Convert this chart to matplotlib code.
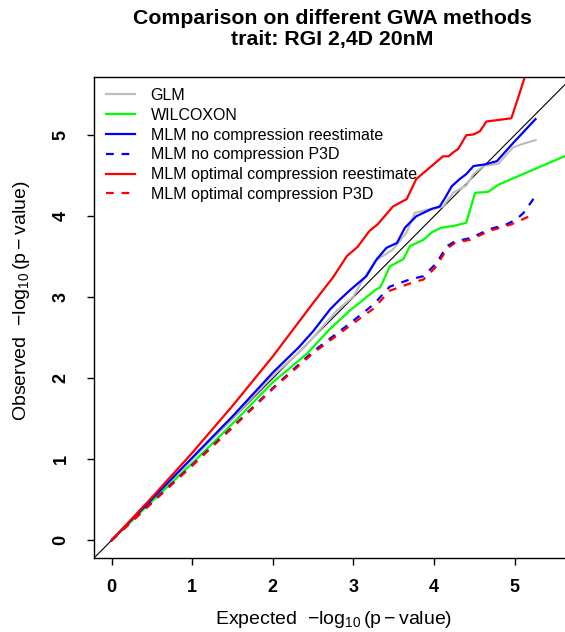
import matplotlib
matplotlib.use('Agg')
import matplotlib.pyplot as plt

plt.rcParams['font.family'] = ['Liberation Sans', 'DejaVu Sans']
plt.rcParams['mathtext.fontset'] = 'custom'
plt.rcParams['mathtext.rm'] = 'Liberation Sans'
plt.rcParams['mathtext.it'] = 'Liberation Sans'
plt.rcParams['mathtext.default'] = 'regular'

# expected vs observed -log10(p) for each method
glm_x = [0, 0.5, 1.0, 1.5, 2.0, 2.38, 2.79, 3.0, 3.08, 3.27, 3.49, 3.66, 3.76, 3.91, 4.11, 4.24, 4.40, 4.49, 4.61, 4.80, 4.98, 5.09, 5.26]
glm_y = [0, 0.50, 1.00, 1.51, 2.03, 2.37, 2.83, 3.01, 3.15, 3.45, 3.59, 3.80, 4.04, 4.08, 4.12, 4.29, 4.38, 4.52, 4.62, 4.65, 4.85, 4.89, 4.94]

wil_x = [0, 0.5, 1.0, 1.5, 2.0, 2.42, 2.7, 2.96, 3.10, 3.27, 3.33, 3.38, 3.45, 3.62, 3.70, 3.87, 3.97, 4.09, 4.24, 4.40, 4.51, 4.67, 4.80, 5.85]
wil_y = [0, 0.48, 0.95, 1.44, 1.95, 2.30, 2.60, 2.84, 2.95, 3.09, 3.12, 3.22, 3.38, 3.47, 3.63, 3.71, 3.80, 3.86, 3.88, 3.92, 4.29, 4.30, 4.39, 4.84]

mlm_x = [0, 0.5, 1.0, 1.5, 2.0, 2.32, 2.5, 2.71, 2.83, 2.96, 3.16, 3.29, 3.41, 3.54, 3.64, 3.78, 3.97, 4.07, 4.14, 4.22, 4.32, 4.40, 4.49, 4.63, 4.78, 4.96, 5.26]
mlm_y = [0, 0.51, 1.02, 1.53, 2.07, 2.38, 2.58, 2.85, 2.97, 3.09, 3.26, 3.47, 3.61, 3.67, 3.86, 4.00, 4.09, 4.12, 4.23, 4.37, 4.46, 4.52, 4.62, 4.64, 4.68, 4.88, 5.20]

mlm_p3d_x = [0, 0.5, 1.0, 1.5, 2.0, 2.5, 2.96, 3.25, 3.45, 3.70, 3.87, 4.03, 4.16, 4.26, 4.45, 4.69, 4.90, 5.02, 5.11, 5.26]
mlm_p3d_y = [0, 0.47, 0.93, 1.40, 1.88, 2.33, 2.68, 2.91, 3.13, 3.22, 3.26, 3.42, 3.63, 3.69, 3.73, 3.84, 3.90, 3.96, 4.04, 4.25]

opt_x = [0, 0.5, 1.0, 1.5, 2.0, 2.25, 2.5, 2.75, 2.92, 3.05, 3.2, 3.3, 3.49, 3.6, 3.66, 3.78, 3.97, 4.11, 4.18, 4.24, 4.30, 4.40, 4.49, 4.57, 4.65, 4.96, 5.04, 5.13, 5.27]
opt_y = [0, 0.53, 1.08, 1.66, 2.27, 2.60, 2.93, 3.25, 3.51, 3.62, 3.82, 3.90, 4.12, 4.18, 4.21, 4.46, 4.62, 4.74, 4.74, 4.79, 4.83, 5.00, 5.01, 5.05, 5.17, 5.21, 5.45, 5.73, 6.2]

opt_p3d_x = [0, 0.5, 1.0, 1.5, 2.0, 2.5, 2.96, 3.25, 3.45, 3.70, 3.87, 4.03, 4.16, 4.26, 4.45, 4.69, 4.96, 5.23]
opt_p3d_y = [0, 0.46, 0.92, 1.39, 1.87, 2.31, 2.65, 2.86, 3.08, 3.17, 3.22, 3.38, 3.60, 3.67, 3.71, 3.82, 3.90, 4.02]

fig = plt.figure(figsize=(5.65, 6.32), dpi=100)
ax = fig.add_axes([0.1671, 0.1171, 0.8577, 0.7611])

ax.axline((0, 0), slope=1, color='black', lw=0.8, zorder=1)

lw = 1.6
dash = (3.5, 3.5)
ax.plot(glm_x, glm_y, color='#BEBEBE', lw=lw, label='GLM')
ax.plot(wil_x, wil_y, color='#00FF00', lw=lw, label='WILCOXON')
ax.plot(mlm_x, mlm_y, color='#0000FF', lw=lw, label='MLM no compression reestimate')
ax.plot(mlm_p3d_x, mlm_p3d_y, color='#0000FF', lw=lw, dashes=dash, label='MLM no compression P3D')
ax.plot(opt_x, opt_y, color='#FF0000', lw=lw, label='MLM optimal compression reestimate')
ax.plot(opt_p3d_x, opt_p3d_y, color='#FF0000', lw=lw, dashes=dash, label='MLM optimal compression P3D')

ax.set_xlim(-0.215, 5.8)
ax.set_ylim(-0.22, 5.72)
ax.set_xticks(range(6))
ax.set_yticks(range(6))
for s in ax.spines.values():
    s.set_linewidth(1.0)
ax.tick_params(axis='both', length=5, width=1.0, labelsize=13)
ax.tick_params(axis='x', pad=10)
ax.tick_params(axis='y', pad=13, labelrotation=90)
for t in ax.get_xticklabels() + ax.get_yticklabels():
    t.set_fontweight('bold')
for t in ax.get_yticklabels():
    t.set_va('center')

ax.legend(loc='upper left', bbox_to_anchor=(106 / 565, 1 - 88 / 632),
          bbox_transform=fig.transFigure, frameon=False, fontsize=11.5,
          handlelength=1.8, handletextpad=1.0, labelspacing=0.3,
          borderpad=0, borderaxespad=0)

fig.text(334 / 565, 1 - 620 / 632, r'Expected  $-\log_{10}(p - value)$',
         ha='center', va='center', fontsize=14)
fig.text(22 / 565, 1 - 301 / 632, r'Observed  $-\log_{10}(p - value)$',
         ha='center', va='center', fontsize=14, rotation=90)

fig.text(332 / 565, 1 - 19 / 632, 'Comparison on different GWA methods',
         ha='center', va='center', fontsize=15.3, fontweight='bold')
fig.text(332 / 565, 1 - 40 / 632, 'trait: RGI 2,4D 20nM',
         ha='center', va='center', fontsize=15.3, fontweight='bold')

fig.savefig('out.png', dpi=100)
